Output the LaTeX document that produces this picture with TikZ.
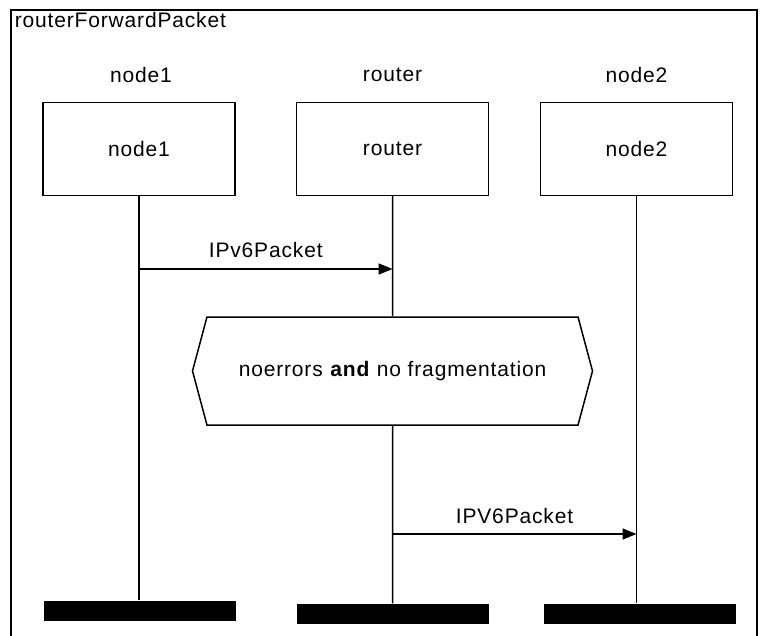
\documentclass[tikz,border=0pt]{standalone}
\usepackage{fontspec}
\setmainfont{Liberation Sans}[LetterSpace=4]
\usetikzlibrary{arrows.meta,positioning,shapes.symbols}

\begin{document}
\begin{tikzpicture}[x=1pt,y=-1pt,line width=1.5pt,>={Triangle[length=14pt,width=11pt]},
box/.style={draw,minimum width=192pt,minimum height=93pt,font=\fontsize{21}{24}\selectfont},
lbl/.style={font=\fontsize{21}{24}\selectfont,inner sep=1pt},
bar/.style={fill=black,minimum width=192pt,minimum height=20pt,inner sep=0pt}]
\useasboundingbox (0,0) rectangle (765,636);
\draw (11,10) rectangle (757,660);
\node[lbl,anchor=north west](title) at (13,11){routerForwardPacket};
% lifeline heads
\node[box](n1) at (139,149){node1};
\node[box](r) at (392.5,149){router};
\node[box](n2) at (636.5,149){node2};
\node[lbl](n1t) at (141,75){node1};
\node[lbl](rt) at (392.5,75){router};
\node[lbl](n2t) at (636.5,75){node2};
% condition
\node[draw,signal,signal to=west and east,signal pointer angle=150,minimum width=400pt,minimum height=108pt,font=\fontsize{21}{24}\selectfont](cond) at (392.5,371){noerrors \textbf{and} no fragmentation};
% lifeline ends
\node[bar](n1e) at (140,610.5){};
\node[bar](re) at (393,614){};
\node[bar](n2e) at (640,614){};
\draw(n1)--(n1 |- n1e.north);
\draw(r)--(cond);\draw(cond)--(r |- re.north);
\draw(n2)--(n2 |- n2e.north);
% messages
\coordinate(m1) at (0,269);\coordinate(m2) at (0,534);
\draw[->](n1 |- m1)--node[lbl,above=10pt]{IPv6Packet}(r |- m1);
\draw[->](r |- m2)--node[lbl,above=9pt]{IPV6Packet}(n2 |- m2);
\end{tikzpicture}
\end{document}
